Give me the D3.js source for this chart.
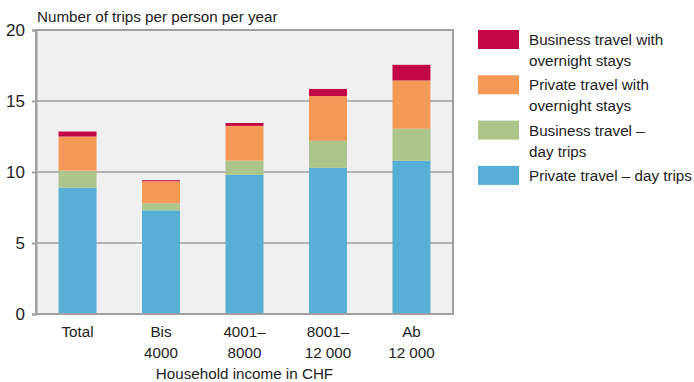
<!DOCTYPE html>
<html>
<head>
<meta charset="utf-8">
<script src="https://cdn.jsdelivr.net/npm/d3@7"></script>
<style>
  html, body { margin: 0; padding: 0; background: #fff; }
  svg { display: block; }
  text { font-family: "Liberation Sans", Arial, sans-serif; fill: #222; }
</style>
</head>
<body>
<svg id="chart" width="694" height="382"></svg>
<script>
// Household income groups (two-line labels)
const categories = ["Total", "Bis 4000", "4001– 8000", "8001– 12 000", "Ab 12 000"];
const categoryLines = [["Total"], ["Bis", "4000"], ["4001–", "8000"], ["8001–", "12 000"], ["Ab", "12 000"]];

// Trips per person per year, stacked bottom to top
const privateDay = [8.9, 7.3, 9.8, 10.3, 10.8];
const businessDay = [1.2, 0.5, 1.0, 1.9, 2.25];
const privateOvernight = [2.4, 1.55, 2.45, 3.15, 3.4];
const businessOvernight = [0.35, 0.07, 0.2, 0.5, 1.1];

const seriesNames = ["Private travel – day trips", "Business travel – day trips",
  "Private travel with overnight stays", "Business travel with overnight stays"];
const seriesColors = ["#57afd6", "#adc48a", "#f49956", "#c20646"];
const yTicks = [0, 5, 10, 15, 20];

const legendLines = [
  ["Business travel with", "overnight stays"],
  ["Private travel with", "overnight stays"],
  ["Business travel –", "day trips"],
  ["Private travel – day trips"]
];
const legendColors = ["#c20646", "#f49956", "#adc48a", "#57afd6"];

const FONT = "15.2px";
const svg = d3.select("#chart");
const m = { left: 36, right: 453, top: 30, bottom: 314 };

const x = d3.scaleBand().domain(categories).range([m.left, m.right]).paddingInner(0.545).paddingOuter(0.27);
const y = d3.scaleLinear().domain([0, 20]).range([m.bottom, m.top]);

// plot background
svg.append("rect")
  .attr("x", m.left).attr("y", m.top)
  .attr("width", m.right - m.left).attr("height", m.bottom - m.top)
  .attr("fill", "#f0f0f0");

// gridlines
svg.append("g").selectAll("line").data(yTicks.filter(d => d > 0 && d < 20)).join("line")
  .attr("x1", m.left).attr("x2", m.right)
  .attr("y1", d => y(d)).attr("y2", d => y(d))
  .attr("stroke", "#b3b3b3").attr("stroke-width", 2);

// stacked bars
const rows = categories.map((c, i) => ({
  cat: c,
  s0: privateDay[i], s1: businessDay[i], s2: privateOvernight[i], s3: businessOvernight[i]
}));
const stack = d3.stack().keys(["s0", "s1", "s2", "s3"])(rows);

svg.append("g").selectAll("g").data(stack).join("g")
  .attr("fill", (d, i) => seriesColors[i])
  .selectAll("rect").data(d => d).join("rect")
  .attr("x", d => x(d.data.cat))
  .attr("width", x.bandwidth())
  .attr("y", d => y(d[1]))
  .attr("height", d => y(d[0]) - y(d[1]));

// frame
svg.append("rect")
  .attr("x", m.left).attr("y", m.top)
  .attr("width", m.right - m.left).attr("height", m.bottom - m.top)
  .attr("fill", "none").attr("stroke", "#a0a0a0").attr("stroke-width", 2);

// y axis
const yAxis = svg.append("g")
  .attr("transform", `translate(${m.left},0)`)
  .call(d3.axisLeft(y).tickValues(yTicks).tickSize(4).tickPadding(7));
yAxis.select(".domain").attr("stroke", "#a0a0a0").attr("stroke-width", 2);
yAxis.selectAll(".tick line").attr("stroke", "#a0a0a0").attr("stroke-width", 2);
yAxis.selectAll(".tick text")
  .style("font-family", "'Liberation Sans', Arial, sans-serif")
  .style("font-size", "17px").attr("fill", "#222");

// y title
svg.append("text").attr("x", 37).attr("y", 22)
  .style("font-size", FONT).text("Number of trips per person per year");

// x labels
const xl = svg.append("g").selectAll("text").data(categories).join("text")
  .attr("x", d => x(d) + x.bandwidth() / 2)
  .attr("y", 337)
  .attr("text-anchor", "middle")
  .style("font-size", FONT);
xl.each(function (d, i) {
  d3.select(this).selectAll("tspan").data(categoryLines[i]).join("tspan")
    .attr("x", x(d) + x.bandwidth() / 2)
    .attr("dy", (t, j) => j === 0 ? 0 : 21)
    .text(t => t);
});

svg.append("text").attr("x", (m.left + m.right) / 2).attr("y", 379)
  .attr("text-anchor", "middle").style("font-size", FONT)
  .text("Household income in CHF");

// legend
const lg = svg.append("g").selectAll("g").data(legendLines).join("g")
  .attr("transform", (d, i) => `translate(478,${30 + i * 45.3})`);
lg.append("rect").attr("width", 41).attr("height", 19).attr("fill", (d, i) => legendColors[i]);
lg.append("text").attr("x", 51).attr("y", 15).style("font-size", FONT)
  .each(function (d) {
    d3.select(this).selectAll("tspan").data(d).join("tspan")
      .attr("x", 51).attr("dy", (t, j) => j === 0 ? 0 : 21).text(t => t);
  });
</script>
</body>
</html>
